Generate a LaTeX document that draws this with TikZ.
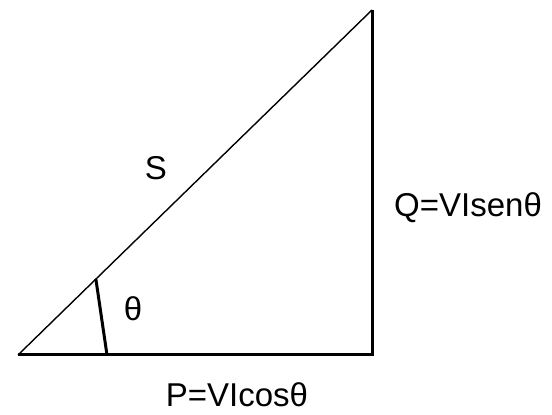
\documentclass[tikz,border=0pt]{standalone}
\usepackage{fontspec}
\setmainfont{Liberation Sans}
\usetikzlibrary{calc}
\tikzset{
  side/.style ={line width=3pt},
  hyp/.style  ={line width=1.4pt},
  lbl/.style  ={inner sep=0pt, font=\fontsize{33}{36}\selectfont},
}
\begin{document}
\begin{tikzpicture}[x=1pt,y=1pt]
  \useasboundingbox (0,0) rectangle (552,415);
  \coordinate (l) at (18, 60);
  \coordinate (r) at (372, 60);
  \coordinate (t) at (372, 405);
  \coordinate (a1) at ($(l)!0.22!(t)$);
  \coordinate (a2) at (107, 60);
  \node[lbl] (s) at (156, 247) {S};
  \node[lbl] (th) at (133, 106) {θ};
  \node[lbl, anchor=west] (q) at (394, 207) {Q=VIsenθ};
  \node[lbl] (p) at (237, 20) {P=VIcosθ};
  \draw[hyp] (l) -- (t);
  \draw[side] (l) -- (r) -- (t);
  \draw[side] (a1) -- (a2);
\end{tikzpicture}
\end{document}
